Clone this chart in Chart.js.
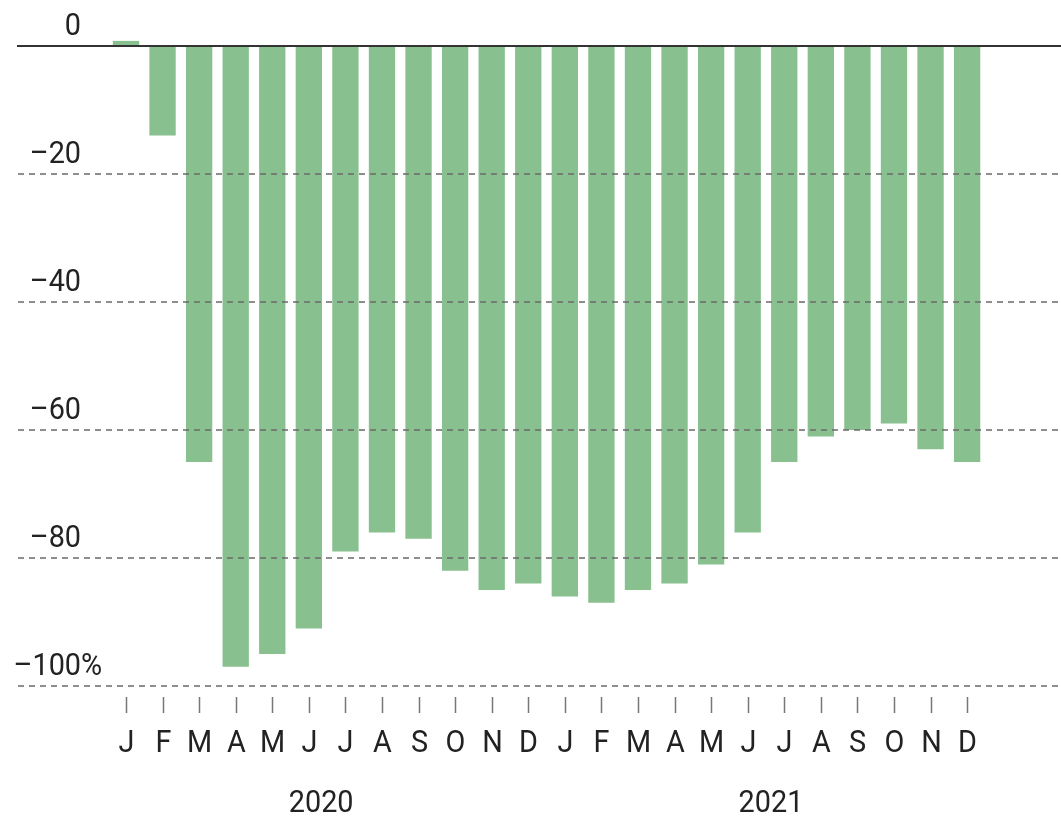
<!DOCTYPE html>
<html>
<head>
<meta charset="utf-8">
<script src="https://cdn.jsdelivr.net/npm/chart.js@4.4.0/dist/chart.umd.min.js"></script>
<style>
  body{margin:0;background:#fff;}
  #wrap{width:1061px;height:816px;position:relative;}
</style>
</head>
<body>
<div id="wrap"><canvas id="chart"></canvas></div>
<script>
// monthly change, % (2020-2021)
const months=['J','F','M','A','M','J','J','A','S','O','N','D','J','F','M','A','M','J','J','A','S','O','N','D'];
const values=[0.8,-14,-65,-97,-95,-91,-79,-76,-77,-82,-85,-84,-86,-87,-85,-84,-81,-76,-65,-61,-60,-59,-63,-65];
const years=['2020','2021'];
const yTicks=[0,-20,-40,-60,-80,-100];

const FONT='"Liberation Sans Narrow", "Roboto", sans-serif';
const SQUEEZE=0.9; // text looks condensed in the original

function label(ctx,txt,x,y,align){
  ctx.save();
  ctx.translate(x,y);
  ctx.scale(SQUEEZE,1);
  ctx.textAlign=align;
  ctx.fillText(txt,0,0);
  ctx.restore();
}

// draws grid, zero line, axis labels
const decor={
  id:'decor',
  afterDatasetsDraw(chart){
    const ctx=chart.ctx;
    const x=chart.scales.x, y=chart.scales.y;
    ctx.save();
    ctx.fillStyle='#222';
    ctx.font='32px '+FONT;
    ctx.textBaseline='alphabetic';
    // gridlines + y labels
    yTicks.forEach(function(t){
      const py=Math.round(y.getPixelForValue(t));
      ctx.beginPath();
      if(t===0){
        ctx.setLineDash([]);
        ctx.strokeStyle='#333';
        ctx.lineWidth=2;
        ctx.moveTo(17,py);ctx.lineTo(1061,py);
      } else {
        ctx.setLineDash([6,5]);
        ctx.strokeStyle='#6a6a6a';
        ctx.lineWidth=1.6;
        ctx.moveTo(18,py);ctx.lineTo(1061,py);
      }
      ctx.stroke();
      ctx.setLineDash([]);
      const lbl=t===0?'0':'\u2013'+Math.abs(t);
      label(ctx,lbl,81,py-11,'right');
      if(t===-100) label(ctx,'%',81,py-11,'left');
    });
    // x ticks and month letters
    ctx.strokeStyle='#777';
    ctx.lineWidth=1.5;
    months.forEach(function(m,i){
      const px=Math.round(x.getPixelForValue(i))+0.5;
      ctx.beginPath();
      ctx.moveTo(px,697);ctx.lineTo(px,713);
      ctx.stroke();
      label(ctx,m,px,752,'center');
    });
    // year labels under each group of 12
    years.forEach(function(yr,k){
      const a=x.getPixelForValue(k*12), b=x.getPixelForValue(k*12+11);
      label(ctx,yr,(a+b)/2+(k===0?-6:5),812,'center');
    });
    ctx.restore();
  }
};

new Chart(document.getElementById('chart'),{
  type:'bar',
  data:{
    labels:months.map(function(m,i){return m+i;}),
    datasets:[{
      data:values,
      backgroundColor:'#88c08f',
      borderWidth:0,
      barPercentage:0.72,
      categoryPercentage:1,
      clip:false
    }]
  },
  options:{
    responsive:true,
    maintainAspectRatio:false,
    animation:false,
    layout:{padding:{left:107.7,right:75.6,top:46,bottom:130}},
    plugins:{legend:{display:false},tooltip:{enabled:false}},
    scales:{
      x:{display:false,offset:true},
      y:{display:false,min:-100,max:0}
    }
  },
  plugins:[decor]
});
</script>
</body>
</html>
